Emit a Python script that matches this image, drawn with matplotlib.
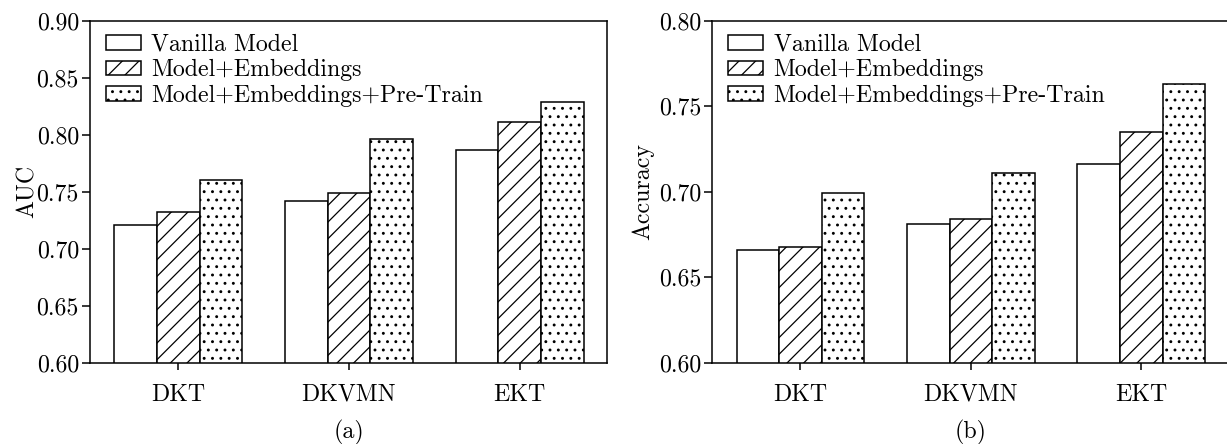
import matplotlib
matplotlib.use("Agg")
import matplotlib.pyplot as plt
import numpy as np
from matplotlib.ticker import FormatStrFormatter

plt.rcParams['font.family'] = ['cmr10', 'DejaVu Sans']
plt.rcParams['axes.formatter.use_mathtext'] = True
plt.rcParams['hatch.linewidth'] = 0.9
plt.rcParams['mathtext.fontset'] = 'cm'

models = ["DKT", "DKVMN", "EKT"]
series_names = ["Vanilla Model", "Model+Embeddings", "Model+Embeddings+Pre-Train"]
auc_vanilla = [0.721, 0.742, 0.787]
auc_emb = [0.732, 0.749, 0.811]
auc_pre = [0.760, 0.796, 0.829]
acc_vanilla = [0.666, 0.681, 0.716]
acc_emb = [0.6675, 0.684, 0.735]
acc_pre = [0.6995, 0.711, 0.763]
auc_ticks = [0.60, 0.65, 0.70, 0.75, 0.80, 0.85, 0.90]
acc_ticks = [0.60, 0.65, 0.70, 0.75, 0.80]

hatches = ['', '//', '..']
W, H = 1227, 444
fig = plt.figure(figsize=(W / 100, H / 100), dpi=100)
FS = 17.2

def panel(rect, series, ticks, ylabel, caption, ylpad):
    ax = fig.add_axes(rect)
    x = np.arange(len(models))
    w = 0.25
    for i, (vals, name) in enumerate(zip(series, series_names)):
        ax.bar(x + (i - 1) * w, vals, width=w, bottom=0, facecolor='white',
               edgecolor='black', linewidth=1.1, hatch=hatches[i], label=name)
    ax.set_xlim(-0.517, 2.511)
    ax.set_ylim(ticks[0], ticks[-1])
    ax.set_yticks(ticks)
    ax.yaxis.set_major_formatter(FormatStrFormatter('%.2f'))
    ax.set_xticks(x)
    ax.set_xticklabels(models)
    ax.tick_params(axis='both', direction='out', labelsize=FS, width=1.1)
    ax.tick_params(axis='y', length=6, pad=2)
    ax.tick_params(axis='x', length=5, pad=10)
    for s in ax.spines.values():
        s.set_linewidth(1.1)
    ax.set_ylabel(ylabel, fontsize=FS, labelpad=ylpad)
    ax.set_xlabel(caption, fontsize=FS, labelpad=10)
    ax.legend(loc='upper left', bbox_to_anchor=(0.031, 0.962), frameon=False,
              fontsize=FS, handlelength=1.45, handleheight=0.55,
              handletextpad=0.45, labelspacing=0.14, borderpad=0, borderaxespad=0)
    return ax

bottom = 1 - 362.7 / H
top = 1 - 20.7 / H
panel([90 / W, bottom, (607 - 90) / W, top - bottom],
      [auc_vanilla, auc_emb, auc_pre], auc_ticks, "AUC", "(a)", -1.5)
panel([712.3 / W, bottom, (1228.4 - 712.3) / W, top - bottom],
      [acc_vanilla, acc_emb, acc_pre], acc_ticks, "Accuracy", "(b)", 3.3)

fig.savefig("out.png", dpi=100)
